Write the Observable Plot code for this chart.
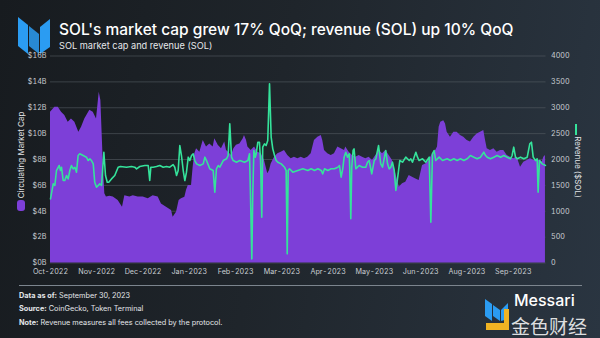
<!DOCTYPE html>
<html>
<head>
<meta charset="utf-8">
<script src="https://cdn.jsdelivr.net/npm/d3@7"></script>
<script src="https://cdn.jsdelivr.net/npm/@observablehq/plot@0.6"></script>
<style>
  html, body { margin: 0; padding: 0; }
  body { width: 600px; height: 338px; overflow: hidden; position: relative;
    background: linear-gradient(100deg, #171b1f 0%, #1f252b 45%, #2a3541 100%);
    font-family: Inter, "Liberation Sans", sans-serif; color: #fff; }
  .abs { position: absolute; white-space: nowrap; }
  #title { left: 59px; top: 20px; font-size: 15.5px; font-weight: 500; color: #fff; }
  #subtitle { left: 59px; top: 40px; font-size: 9.2px; color: #e6e8ea; }
  #chart { position: absolute; left: 0; top: 50px; }
  #legL { left: 21px; top: 155px; font-size: 8px; color: #e4e6e8; transform: translate(-50%, -50%) rotate(-90deg); }
  #swL { left: 17px; top: 200px; width: 8px; height: 11px; border-radius: 3px; background: #7d3fd8; }
  #legR { left: 578px; top: 167px; font-size: 8px; color: #e4e6e8; transform: translate(-50%, -50%) rotate(90deg); }
  #swR { left: 575px; top: 124px; width: 2px; height: 11px; background: #35e39b; }
  #rule { left: 19px; top: 285px; width: 563px; height: 1px; background: #7c858e; }
  .foot { left: 19px; font-size: 7.3px; color: #e3e6e9; }
  .foot b { font-weight: 700; }
  #messari { left: 514px; top: 293px; font-size: 16px; line-height: 15px; color: #fff; font-weight: 500; }
  #wm { left: 511px; top: 316px; font-size: 19px; line-height: 19px; color: rgba(255,255,255,0.85); font-family: "Noto Sans CJK SC", sans-serif; letter-spacing: 0px; }
</style>
</head>
<body>
<svg class="abs" style="left:18px;top:17px" width="34" height="37" viewBox="0 0 34 37">
  <polygon points="0,0 10,8 10,37 0,29" fill="#2b9cf2"/>
  <polygon points="11,9 21,17 21,37 11,29" fill="#2b9cf2" opacity="0.85"/>
  <polygon points="22,10 32,2 32,30 22,37" fill="#2b9cf2"/>
</svg>
<div id="title" class="abs">SOL's market cap grew 17% QoQ; revenue (SOL) up 10% QoQ</div>
<div id="subtitle" class="abs">SOL market cap and revenue (SOL)</div>
<div id="chart"></div>
<div id="legL" class="abs">Circulating Market Cap</div>
<div id="swL" class="abs"></div>
<div id="legR" class="abs">Revenue ($SOL)</div>
<div id="swR" class="abs"></div>
<div id="rule" class="abs"></div>
<div class="abs foot" style="top:291px"><b>Data as of:</b> September 30, 2023</div>
<div class="abs foot" style="top:304px"><b>Source:</b> CoinGecko, Token Terminal</div>
<div class="abs foot" style="top:318px"><b>Note:</b> Revenue measures all fees collected by the protocol.</div>
<svg class="abs" style="left:484px;top:299px" width="26" height="32" viewBox="0 0 26 32">
  <polygon points="1,0 8,5 8,22 1,17" fill="#2b9cf2"/>
  <polygon points="9,6 16,11 16,22 9,17" fill="#2b9cf2"/>
  <polygon points="17,11 24,4 24,20 17,22" fill="#2b9cf2"/>
  <polygon points="2,24 20,24 20,10 25,10 25,31 2,31" fill="#f0b323"/>
</svg>
<div id="messari" class="abs">Messari</div>
<div id="wm" class="abs">金色财经</div>
<script>
// Market cap (USD billions), by day offset from 2022-10-01
const capDays = [0,3.2,5.7,8.1,10.5,13,15.4,17.9,20.8,22.8,25.2,28.9,31.4,33.8,35.8,37,38.7,39.9,41.1,43.6,46.1,49.7,52.9,54.6,58.3,60.8,64.4,68.1,71.8,75.4,79.1,81.5,85.2,88.9,90.1,92.6,94.5,96.2,98.7,99.9,101.2,103.6,104.8,106,107.3,109.7,112.2,114.6,117,119.5,120.7,123.2,125.6,128,129.3,130.8,133,134.7,136.6,139.1,141.6,142.5,144,145,147.4,149.9,152.3,154.8,157.2,159.6,160.9,162.1,164.6,167,169.5,171.9,174.3,176.8,179.2,181.7,184.2,186.6,189,191.5,193.9,196.4,198.9,200,201.3,203.7,206.2,208.6,211.1,213.5,216,216.9,219.4,221.8,224.3,226.7,229.2,231.6,234.1,236.5,239,241.5,243.9,246.3,248.8,251.2,253.7,256.2,258.6,261,263.5,265.9,268.4,270.8,273.3,275.7,278.2,280.6,283,284.3,285.5,286.7,288.9,290.2,291.4,293.8,296.3,298.7,301.2,303.6,306.1,308.5,311,313.4,315.9,318.3,319.6,320.8,323.2,325.7,328.1,330.6,333,335.5,337.9,340.3,342.8,345.3,347.7,350.2,352.6,355.1,357.5,360,361.2,362.4,363.6];
const capValues = [11.65,12.04,12.04,11.65,11.4,10.88,11.14,10.88,10.1,10.5,11.14,11.8,11.65,11.14,13.2,12.56,7.92,5.35,5.1,5.15,5.1,4.83,4.31,5.2,5.1,5.2,5.1,5.1,4.96,5.2,5.1,4.57,4.31,4.06,3.54,3.93,4.83,4.96,5.09,5.6,5.99,5.99,7.4,8.44,8.83,8.57,9.47,8.96,9.2,8.96,9.6,9.1,8.83,9.35,8.7,8.57,8.3,8.83,9.1,9.2,9.6,9.85,9.47,8.96,8.7,8.96,8.57,8.44,7.92,6.89,7.15,7.66,8.18,8.44,8.57,8.7,8.3,8.05,8.18,8.05,8.18,8.05,8.18,8.44,9.47,9.72,9.85,9.47,8.7,8.44,8.3,8.44,8.96,8.83,8.7,8.96,8.57,8.3,8.18,8.3,8.18,8.05,8.18,7.92,8.3,8.7,8.44,8.7,8.3,7.92,6.89,5.86,6.12,6.25,6.76,6.63,6.5,6.38,7.53,7.66,7.92,8.44,8.7,8.96,10.5,10.88,11.0,10.75,10.1,9.72,10.1,10.1,9.85,9.72,9.47,9.35,9.72,9.98,10.1,10.24,9.47,8.83,8.7,8.83,8.57,8.7,8.7,8.3,8.18,8.05,8.18,7.4,7.79,7.92,8.05,7.92,7.92,7.92,7.79,8.18,8.3];

// Revenue ($SOL), by day offset from 2022-10-01
const revDays = [0,2,3.2,4.4,6.4,7.3,8.1,9.3,10.5,11.8,13,14.2,15.4,16.7,17.9,19.1,20.3,21.5,24,26.4,27.7,28.9,30.1,31.4,32.5,33.8,36.2,37.5,39.2,40.4,41.7,42.8,44.8,47.2,49.7,51.4,55.8,59.5,61.9,63.2,65.6,69.3,71.8,72.9,73.7,75.4,77.9,80.3,82.8,85.2,87.6,90.1,91.3,92.6,93.8,95,96.2,97.5,98.7,99.9,101.2,102.4,103.6,104.8,106,107.3,109.7,112.2,113.4,114.6,117,119.5,120.7,121.9,123.2,124.4,126.9,129.3,130.5,131.7,133,134.2,136.6,139.1,142.5,145,146.2,146.9,147.9,148.6,149.4,150.4,151.1,152.3,153.5,154.3,155.2,155.9,157.2,158.4,159.6,160.9,162.1,163.3,164.6,165.8,167,169.5,171.9,173.1,173.9,174.6,175.6,178,181.7,185.4,189,191.5,193.9,196.4,198.9,200,201.3,203.7,206.2,208.6,211.1,212.3,213.5,214.7,215.7,216.9,218.2,219.4,219.8,220.6,221.3,222.3,223,224.3,226.7,229.2,231.6,232.9,234.1,236,237.8,239,241,242.6,243.9,246.3,247.6,248.8,250,251.2,252.5,253.7,254.9,256.6,258.6,261,263.5,264.7,265.9,268.4,269.6,270.8,273.3,275.7,278.2,279.4,280.6,281.8,283,285.5,288,291.4,293.8,296.3,298.7,301.2,303.6,306.1,308.5,311,313.4,315.9,318.3,319.6,320.8,323.2,325.7,328.1,330.6,333,335.5,337.9,339.1,340.3,341.6,342.8,345.3,347.7,350.2,352.1,353.3,354.6,356.3,357.5,358.2,359.2,361.2,363.6];
const revValues = [1240,1530,1500,1787,1884,1787,1850,1594,1594,1690,1625,1787,1884,1820,1850,1755,2077,2110,2077,2045,1980,2013,1980,1916,1561,1465,1530,1500,2141,1690,1561,1561,1625,1690,1851,1865,1851,1865,1851,1820,1865,1884,1884,1594,1851,1851,1865,1884,1851,1865,1851,1900,1851,1690,1787,2270,2077,1787,1594,1755,2045,1980,2077,2110,1980,1916,1884,1916,2045,1980,1820,1787,1368,1820,1884,1851,1980,2013,2077,2689,2045,1980,1948,1980,1948,1980,2110,1336,80,1336,2174,2045,2110,2334,2334,1980,885,2238,2302,2270,2367,3462,2431,2206,2077,1980,1948,1916,1851,1787,177,1787,1820,1755,1787,1820,1787,1820,1787,1820,1787,1723,1820,1787,1820,1820,1851,1884,1658,1820,2045,2141,2045,2110,1851,854,1851,2174,2206,1820,1884,1851,1851,1948,1980,1723,1980,2013,2270,1916,1851,2174,1916,1820,1851,1948,1787,1401,1625,1980,1948,2045,1980,2013,1948,2141,2045,1980,2013,1948,2045,788,2110,2174,1980,2045,1980,2013,1980,2013,1980,2013,1980,2013,2077,2045,2013,2045,2141,2077,2045,2013,2045,2077,2045,2077,2045,2013,2077,2238,2045,2013,2045,2013,2045,2302,2334,2045,1980,2013,1368,1980,1916,1884];

// Axes
const xTickDays = [0,34,68,102,136,170,204,238,272,306,340];
const xTickLabels = ["Oct-2022","Nov-2022","Dec-2022","Jan-2023","Feb-2023","Mar-2023","Apr-2023","May-2023","Jun-2023","Aug-2023","Sep-2023"];
const capTicks = [0,2,4,6,8,10,12,14,16];        // $B
const revTicks = [0,500,1000,1500,2000,2500,3000,3500,4000]; // SOL
const revPerBillion = 250; // right axis: 4000 SOL aligns with $16B

const t0 = Date.UTC(2022, 9, 1);
const toDate = d => new Date(t0 + d * 86400000);
const capData = capDays.map((d, i) => ({date: toDate(d), cap: capValues[i]}));
const revData = revDays.map((d, i) => ({date: toDate(d), rev: revValues[i]}));
const xTicks = xTickDays.map(toDate);
const labelMap = new Map(xTicks.map((t, i) => [+t, xTickLabels[i]]));

const chart = Plot.plot({
  width: 600,
  height: 232,
  marginTop: 5.5,
  marginBottom: 19.5,
  marginLeft: 50,
  marginRight: 54.5,
  style: {background: "transparent", color: "#c9cdd2", fontSize: "7.2px", fontFamily: "Inter, 'Liberation Sans', sans-serif"},
  x: {type: "utc", domain: [toDate(0), toDate(364)]},
  y: {domain: [0, 16]},
  marks: [
    Plot.gridY(capTicks, {stroke: "#5a6168", strokeOpacity: 0.55, strokeWidth: 1}),
    Plot.areaY(capData, {x: "date", y: "cap", fill: "#7d3fd8"}),
    Plot.lineY(revData, {x: "date", y: d => d.rev / revPerBillion, stroke: "#35e39b", strokeWidth: 1.6}),
    Plot.axisY(capTicks, {anchor: "left", tickFormat: d => `$${d}B`, tickSize: 0, tickPadding: 4, label: null}),
    Plot.axisY(revTicks.map(v => v / revPerBillion), {anchor: "right", tickFormat: d => String(Math.round(d * revPerBillion)), tickSize: 0, tickPadding: 5, label: null}),
    Plot.axisX(xTicks, {tickFormat: d => labelMap.get(+d), tickSize: 0, tickPadding: 6, label: null})
  ]
});
document.getElementById("chart").appendChild(chart);
</script>
</body>
</html>
